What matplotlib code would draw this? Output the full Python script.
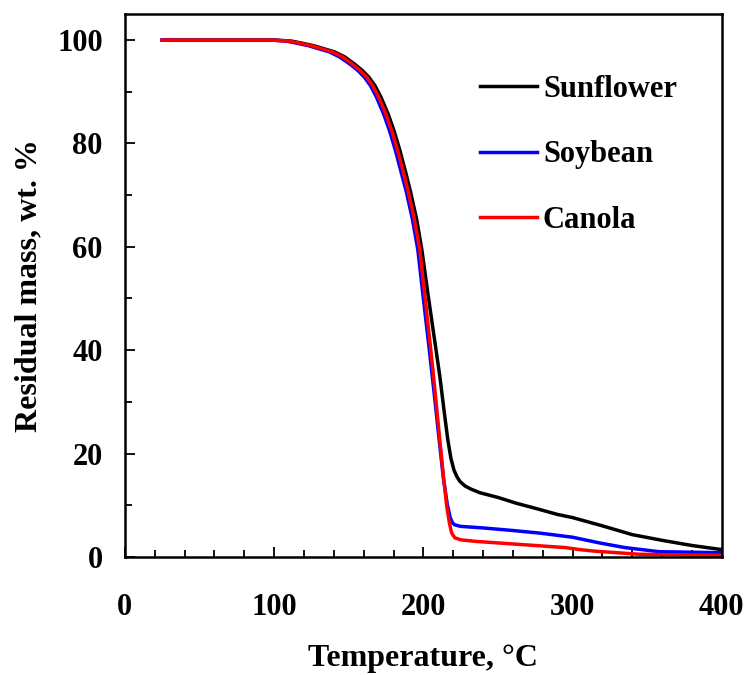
import matplotlib
matplotlib.use('Agg')
import matplotlib.pyplot as plt
from matplotlib.ticker import MultipleLocator

plt.rcParams['font.family'] = 'Liberation Serif'
plt.rcParams['font.weight'] = 'bold'

# sunflower
t_sun = [25, 100, 111.5, 118.5, 126.5, 133.5, 140.5, 147.5, 154.5, 159.5, 163.5, 167.5, 171.5, 176.5, 180.5, 184.5,
         188.5, 191.5, 195.5, 199, 203, 207, 211, 214, 216.4, 218.5, 220.5, 222.5, 224.5, 228, 232, 238, 250, 262,
         275, 290, 300, 320, 340, 360, 380, 400]
m_sun = [100, 100, 99.8, 99.4, 98.9, 98.3, 97.7, 96.7, 95.2, 94.0, 92.8, 91.2, 89.0, 85.6, 82.3, 78.4,
         74.0, 70.5, 65.3, 59.4, 51, 43, 35, 28, 22.6, 19, 16.8, 15.5, 14.6, 13.7, 13.1, 12.4, 11.5, 10.4,
         9.4, 8.2, 7.6, 6.0, 4.3, 3.2, 2.2, 1.4]

# soybean
t_soy = [25, 97, 108, 115, 123, 130, 137, 144, 151.5, 156.5, 160.5, 164.5, 168.5, 173.5, 177.5, 181.5,
         185.5, 188.7, 192.7, 196.3, 199.8, 204, 207.3, 210.6, 213.3, 216, 218, 219.5, 221, 225, 240, 260,
         278, 300, 318, 335, 358, 380, 400]
m_soy = [100, 100, 99.8, 99.4, 98.9, 98.3, 97.7, 96.7, 95.2, 94.0, 92.8, 91.2, 89.0, 85.6, 82.3, 78.4,
         74.0, 70.5, 65.3, 59.4, 50.5, 40, 31.5, 22.6, 15.5, 10.2, 7.6, 6.6, 6.2, 5.9, 5.6, 5.1,
         4.6, 3.8, 2.7, 1.8, 1.0, 0.9, 0.8]

# canola
t_can = [25, 97, 110, 117, 125, 132, 139, 146, 153, 158, 162, 166, 170, 175, 179, 183, 187, 190, 194, 197.6,
         201, 205, 208, 211, 213.5, 215.7, 217.5, 219, 221, 225, 235, 250, 265, 280, 295, 305, 315, 330, 345,
         370, 400]
m_can = [100, 100, 99.8, 99.4, 98.9, 98.3, 97.7, 96.7, 95.2, 94.0, 92.8, 91.2, 89.0, 85.6, 82.3, 78.4, 74.0,
         70.5, 65.3, 59.4, 50.5, 40, 31.5, 22.6, 15.5, 9.7, 6.5, 4.6, 3.7, 3.3, 3.0, 2.7, 2.4, 2.1, 1.8, 1.4,
         1.1, 0.8, 0.5, 0.4, 0.3]

fig = plt.figure(figsize=(7.48, 6.75), dpi=100)
ax = fig.add_axes([0.167, 0.175, 0.798, 0.804])

ax.plot(t_sun, m_sun, color='black', lw=2.5, label='Sunflower')
ax.plot(t_soy, m_soy, color='blue', lw=2.5, label='Soybean')
ax.plot(t_can, m_can, color='red', lw=2.5, label='Canola')

ax.set_xlim(0, 400)
ax.set_ylim(0, 105)
ax.xaxis.set_major_locator(MultipleLocator(100))
ax.xaxis.set_minor_locator(MultipleLocator(20))
ax.yaxis.set_minor_locator(MultipleLocator(10))
ax.set_yticks([0, 20, 40, 60, 80, 100])

ax.tick_params(axis='both', which='both', direction='in', width=1.3, labelsize=22)
ax.tick_params(axis='both', which='major', length=7)
ax.tick_params(axis='both', which='minor', length=5)
ax.tick_params(axis='x', which='both', pad=26)
ax.tick_params(axis='y', which='both', pad=16)
for s in ax.spines.values():
    s.set_linewidth(1.8)

ax.set_xlabel('Temperature, \u00b0C', fontsize=23, fontweight='bold', labelpad=16)
ax.set_ylabel('Residual mass, wt. %', fontsize=23, fontweight='bold', labelpad=10)

ax.legend(loc='upper left', bbox_to_anchor=(0.575, 0.911), frameon=False, fontsize=22,
          handlelength=1.85, handletextpad=0.2, labelspacing=1.2, borderaxespad=0)

fig.savefig('out.png', dpi=100)
